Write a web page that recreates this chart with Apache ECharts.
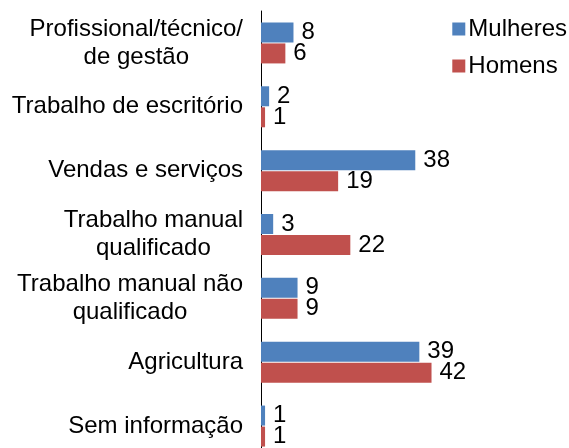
<!DOCTYPE html>
<html>
<head>
<meta charset="utf-8">
<script src="https://cdn.jsdelivr.net/npm/echarts@6/dist/echarts.min.js"></script>
<style>
html,body{margin:0;padding:0;background:#fff;}
#chart{width:569px;height:448px;}
</style>
</head>
<body>
<div id="chart"></div>
<script>
var categories = [
  'Profissional/técnico/\nde gestão',
  'Trabalho de escritório',
  'Vendas e serviços',
  'Trabalho manual\nqualificado',
  'Trabalho manual não\nqualificado',
  'Agricultura',
  'Sem informação'
];
var seriesNames = ['Mulheres', 'Homens'];
var mulheres = [8, 2, 38, 3, 9, 39, 1];
var homens = [6, 1, 19, 22, 9, 42, 1];

var FONT = '"Liberation Sans", Arial, sans-serif';
var chart = echarts.init(document.getElementById('chart'), null, {renderer: 'canvas'});

function labelFmt(v) {
  return v.split('\n').map(function (l) { return '{c|' + l + '}'; }).join('\n');
}

chart.setOption({
  animation: false,
  backgroundColor: '#ffffff',
  textStyle: {fontFamily: FONT},
  legend: {
    orient: 'vertical',
    right: -3,
    top: 12,
    itemWidth: 13,
    itemHeight: 13,
    itemGap: 13,
    icon: 'rect',
    textStyle: {fontSize: 24, color: '#000', fontFamily: FONT, padding: [0, 0, 0, -2]},
    data: seriesNames
  },
  grid: {left: 261, top: 11, width: 284.2, height: 447, containLabel: false, outerBoundsMode: 'none'},
  xAxis: {
    type: 'value', min: 0, max: 70,
    show: false
  },
  yAxis: {
    type: 'category',
    inverse: true,
    data: categories,
    axisLine: {show: true, lineStyle: {color: '#000', width: 1}},
    axisTick: {show: false},
    splitLine: {show: false},
    axisLabel: {
      margin: 18,
      color: '#000',
      fontSize: 24,
      fontFamily: FONT,
      lineHeight: 28,
      formatter: labelFmt,
      rich: {c: {align: 'center', fontSize: 24, lineHeight: 28, fontFamily: FONT, color: '#000'}}
    }
  },
  series: [
    {
      name: seriesNames[0], type: 'bar', data: mulheres,
      barWidth: 20, barGap: '5%',
      itemStyle: {color: '#4F81BD'},
      label: {show: true, position: 'right', distance: 8, color: '#000', fontSize: 24, fontFamily: FONT}
    },
    {
      name: seriesNames[1], type: 'bar', data: homens,
      barWidth: 20, barGap: '5%',
      itemStyle: {color: '#C0504D'},
      label: {show: true, position: 'right', distance: 8, color: '#000', fontSize: 24, fontFamily: FONT}
    }
  ]
});
</script>
</body>
</html>
